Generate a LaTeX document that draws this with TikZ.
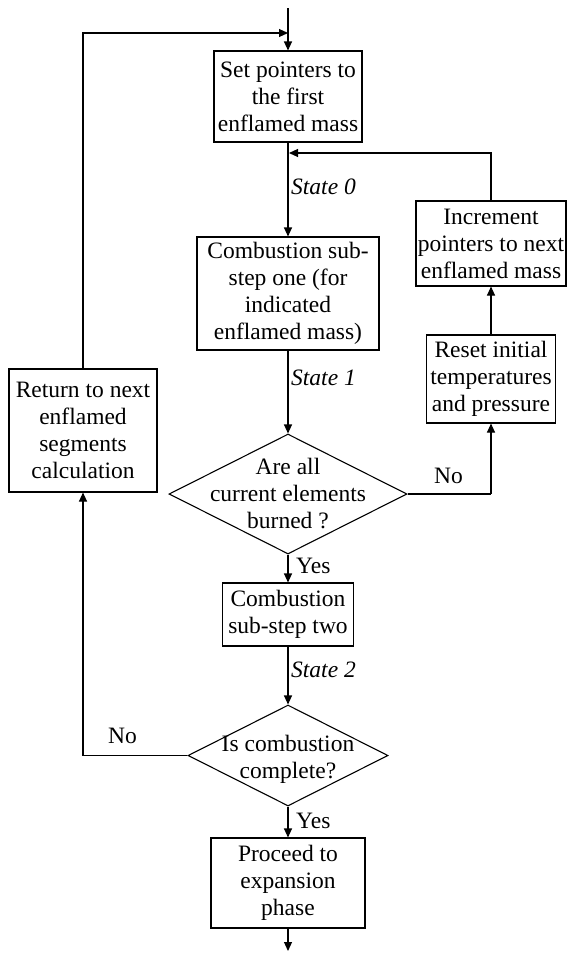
\documentclass[tikz,border=0pt]{standalone}
\usepackage{fontspec}
\setmainfont{Liberation Serif}
\usetikzlibrary{arrows.meta,shapes.geometric}
\begin{document}
\begin{tikzpicture}[x=1pt,y=-1pt,
  txt/.style={font=\fontsize{23.5}{27}\selectfont, align=center},
  box/.style={txt, draw, line width=1.1pt, inner sep=0pt},
  dia/.style={diamond, draw, line width=1.1pt, inner sep=0pt},
  lbl/.style={font=\fontsize{23.5}{27}\selectfont, inner sep=0pt, anchor=west},
  st/.style={lbl, font=\fontsize{23.5}{27}\selectfont\itshape},
  arr/.style={line width=1.1pt, -{Triangle[length=9pt,width=8pt]}},
  ln/.style={line width=1.1pt}]
\useasboundingbox (0,0) rectangle (568,956);
% nodes
\node[box, minimum width=148pt, minimum height=91pt] (b1) at (288,96.5) {Set pointers to\\the first\\enflamed mass};
\node[box, minimum width=182pt, minimum height=113pt] (b2) at (288,293.5) {Combustion sub-\\step one (for\\indicated\\enflamed mass)};
\node[box, minimum width=150pt, minimum height=85pt] (inc) at (491,243.5) {Increment\\pointers to next\\enflamed mass};
\node[box, minimum width=129pt, minimum height=88pt] (rst) at (491,379) {Reset initial\\temperatures\\and pressure};
\node[box, minimum width=148pt, minimum height=123pt] (ret) at (83,430.5) {Return to next\\enflamed\\segments\\calculation};
\node[dia, minimum width=238pt, minimum height=120pt] (d1) at (288,494) {};
\node[txt] (d1t) at (288,494) {Are all\\current elements\\burned ?};
\node[box, minimum width=131pt, minimum height=63pt] (b3) at (288,614.5) {Combustion\\sub-step two};
\node[dia, minimum width=200pt, minimum height=101pt] (d2) at (288,755.5) {};
\node[txt] (d2t) at (288,759) {Is combustion\\complete?};
\node[box, minimum width=154pt, minimum height=90pt] (b4) at (288,883) {Proceed to\\expansion\\phase};
% free ends and joints
\coordinate (top) at (288,8);
\coordinate (bot) at (288,951);
\coordinate (j0) at (288,33);
\coordinate (j1) at (289,153);
\coordinate (nr) at (491,494);
\coordinate (nl) at (83,755.5);
% connectors
\draw[arr] (top) -- (b1.north);
\draw[arr] (ret.north) |- (j0);
\draw[arr] (b1.south) -- (b2.north);
\draw[arr] (inc.north) |- (j1);
\draw[arr] (b2.south) -- (d1.north);
\draw[arr] (d1.south) -- (b3.north);
\draw[ln] (d1.east) -- (nr);
\draw[arr] (nr) -- (rst.south);
\draw[arr] (rst.north) -- (inc.south);
\draw[arr] (b3.south) -- (d2.north);
\draw[ln] (d2.west) -- (nl);
\draw[arr] (nl) -- (ret.south);
\draw[arr] (d2.south) -- (b4.north);
\draw[arr] (b4.south) -- (bot);
% labels
\node[st] (s0) at (291,187) {State 0};
\node[st] (s1) at (291,378) {State 1};
\node[st] (s2) at (291,670) {State 2};
\node[lbl] (y1) at (296,566) {Yes};
\node[lbl] (y2) at (296,821) {Yes};
\node[lbl] (n1) at (434,476) {No};
\node[lbl] (n2) at (108,736) {No};
\end{tikzpicture}
\end{document}
